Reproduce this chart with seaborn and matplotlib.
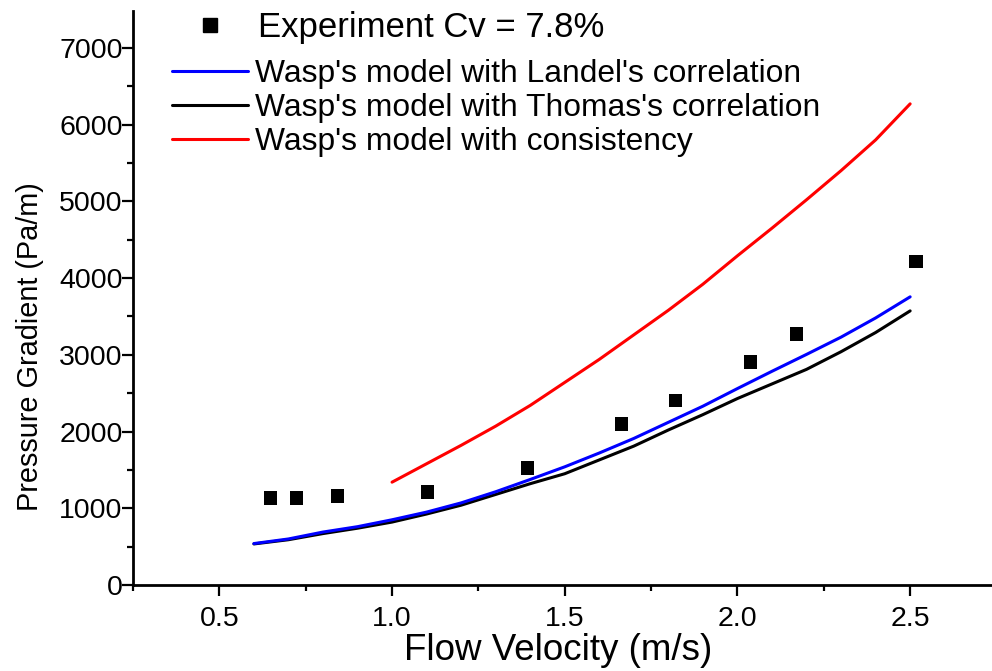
import matplotlib
matplotlib.use("Agg")
import matplotlib.pyplot as plt
import seaborn as sns
import pandas as pd
from matplotlib.lines import Line2D

# ---- data ----
exp_v = [0.648, 0.723, 0.842, 1.102, 1.391, 1.664, 1.820, 2.037, 2.170, 2.517]
exp_dp = [1134, 1134, 1160, 1212, 1525, 2099, 2399, 2907, 3272, 4211]

model_v = [0.6, 0.7, 0.8, 0.9, 1.0, 1.1, 1.2, 1.3, 1.4, 1.5, 1.6, 1.7, 1.8,
           1.9, 2.0, 2.1, 2.2, 2.3, 2.4, 2.5]
landel_dp = [540, 600, 690, 760, 850, 950, 1070, 1215, 1375, 1540, 1720, 1910,
             2120, 2330, 2560, 2785, 3005, 3230, 3480, 3755]
thomas_dp = [535, 590, 670, 740, 820, 925, 1040, 1180, 1320, 1450, 1630, 1810,
             2020, 2220, 2430, 2620, 2810, 3040, 3290, 3572]

cons_v = [1.0, 1.1, 1.2, 1.3, 1.4, 1.5, 1.6, 1.7, 1.8, 1.9, 2.0, 2.1, 2.2,
          2.3, 2.4, 2.5]
cons_dp = [1340, 1580, 1820, 2070, 2340, 2640, 2940, 3260, 3580, 3920, 4290,
           4650, 5020, 5400, 5800, 6270]

exp_label = "Experiment Cv = 7.8%"
line_labels = ["Wasp's model with Landel's correlation",
               "Wasp's model with Thomas's correlation",
               "Wasp's model with consistency"]

x_ticks = [0.5, 1.0, 1.5, 2.0, 2.5]
y_ticks = [0, 1000, 2000, 3000, 4000, 5000, 6000, 7000]

# ---- style ----
sns.set_style("ticks")
plt.rcParams["font.family"] = ["Liberation Sans", "DejaVu Sans"]
for k in ["text.color", "axes.labelcolor", "xtick.color", "ytick.color",
          "axes.edgecolor"]:
    plt.rcParams[k] = "black"

fig = plt.figure(figsize=(9.92, 6.71), dpi=100)
ax = fig.add_axes([133 / 992, 86 / 671, 1 - 133 / 992, (585 - 11) / 671])

df_l = pd.DataFrame({"v": model_v, "dp": landel_dp})
df_t = pd.DataFrame({"v": model_v, "dp": thomas_dp})
df_c = pd.DataFrame({"v": cons_v, "dp": cons_dp})
df_e = pd.DataFrame({"v": exp_v, "dp": exp_dp})

sns.lineplot(data=df_t, x="v", y="dp", ax=ax, color="black", lw=2.2)
sns.lineplot(data=df_l, x="v", y="dp", ax=ax, color="#0000ff", lw=2.2)
sns.lineplot(data=df_c, x="v", y="dp", ax=ax, color="#ff0000", lw=2.2)
sns.scatterplot(data=df_e, x="v", y="dp", ax=ax, marker="s", s=90,
                color="black", edgecolor="none", zorder=5)

ax.set_xlim(0.25, 2.737)
ax.set_ylim(0, 7480)
ax.set_xticks(x_ticks)
ax.set_xticklabels([f"{t:.1f}" for t in x_ticks], fontsize=20.5)
ax.set_yticks(y_ticks)
ax.set_yticklabels([str(t) for t in y_ticks], fontsize=20.5)
ax.set_xticks([0.25, 0.75, 1.25, 1.75, 2.25], minor=True)
ax.set_yticks([500, 1500, 2500, 3500, 4500, 5500, 6500], minor=True)
ax.tick_params(which="major", length=8, width=1.6, direction="out")
ax.tick_params(which="minor", length=4.5, width=1.6, direction="out")
ax.tick_params(axis="y", which="major", pad=-0.5)
ax.tick_params(axis="x", which="major", pad=7)

sns.despine(ax=ax)
for s in ["left", "bottom"]:
    ax.spines[s].set_linewidth(2)

ax.set_xlabel("Flow Velocity (m/s)", fontsize=26.5)
ax.set_ylabel("Pressure Gradient (Pa/m)", fontsize=20.8)
ax.xaxis.set_label_coords((558 - 133) / 859, (585 - 633) / 574)
ax.yaxis.set_label_coords((44 - 133) / 859, (585 - 347) / 574)

# legend: experiment entry (larger text)
h_exp = [Line2D([], [], marker="s", ms=9.5, color="black", ls="none")]
leg1 = ax.legend(h_exp, [exp_label], loc="upper left",
                 bbox_to_anchor=(172 / 992, 1 - 11 / 671),
                 bbox_transform=fig.transFigure, frameon=False,
                 fontsize=25, handlelength=2.19, handletextpad=0.3,
                 borderpad=0, borderaxespad=0)
ax.add_artist(leg1)

h_lines = [Line2D([], [], color="#0000ff", lw=2.2),
           Line2D([], [], color="black", lw=2.2),
           Line2D([], [], color="#ff0000", lw=2.2)]
leg2 = ax.legend(h_lines, line_labels, loc="upper left",
                 bbox_to_anchor=(172 / 992, 1 - 59 / 671),
                 bbox_transform=fig.transFigure, frameon=False,
                 fontsize=22.9, handlelength=2.39, handletextpad=0.22,
                 labelspacing=0.13, borderpad=0, borderaxespad=0)

fig.savefig("out.png", dpi=100)
